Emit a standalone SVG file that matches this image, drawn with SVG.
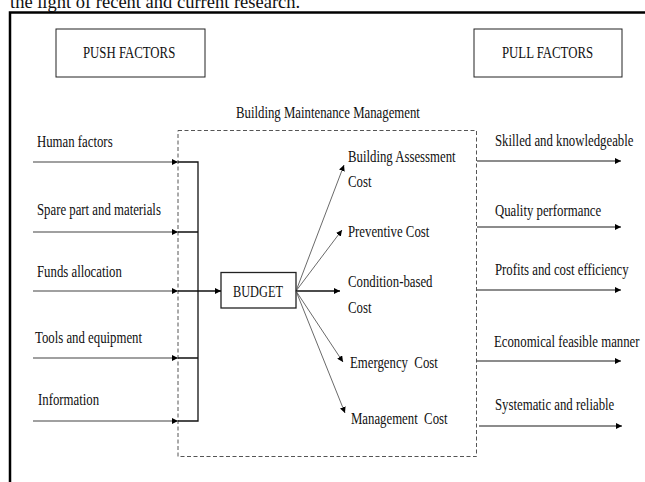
<svg xmlns="http://www.w3.org/2000/svg" width="645" height="482" viewBox="0 0 645 482">
<style>
text{font-family:"Liberation Serif","Times New Roman",serif;font-size:16px;fill:#111}
.box{fill:#fff;stroke:#222;stroke-width:1}
.in{stroke:#808080;stroke-width:1.5;fill:none}
.bus{stroke:#111;stroke-width:1.3;fill:none}
.fan{stroke:#444;stroke-width:0.8;fill:none}
.out{stroke:#666;stroke-width:1.5;fill:none}
</style>
<defs>
<marker id="ah" viewBox="0 0 10 10" refX="10" refY="5" markerWidth="6" markerHeight="6" markerUnits="userSpaceOnUse" orient="auto"><path d="M0,0 L10,5 L0,10 z" fill="#000"/></marker>
</defs>
<rect width="645" height="482" fill="#fff"/>
<text x="10" y="8" style="font-size:18.5px">the light of recent and current research.</text>
<path d="M10,482 V12.5 H645" fill="none" stroke="#000" stroke-width="2.5"/>

<g id="push"><rect class="box" x="56" y="29" width="149" height="48"/><text transform="translate(83,58) scale(0.8,1)">PUSH FACTORS</text></g>
<g id="pull"><rect class="box" x="474" y="29" width="148" height="48"/><text transform="translate(502,58) scale(0.8,1)">PULL FACTORS</text></g>

<g id="bmm"><rect x="178" y="130.5" width="298.5" height="326" fill="none" stroke="#555" stroke-width="1" stroke-dasharray="4 2.5"/><text transform="translate(236,118) scale(0.8,1)">Building Maintenance Management</text></g>

<g id="push-items">
<text transform="translate(37,147) scale(0.8,1)">Human factors</text>
<text transform="translate(37,215) scale(0.8,1)">Spare part and materials</text>
<text transform="translate(37,277) scale(0.8,1)">Funds allocation</text>
<text transform="translate(35,343) scale(0.8,1)">Tools and equipment</text>
<text transform="translate(38,405) scale(0.8,1)">Information</text>
</g>

<g id="budget"><rect x="221" y="272.5" width="75" height="35.5" fill="#fff" stroke="#222" stroke-width="1.3"/><text transform="translate(233,297) scale(0.77,1)">BUDGET</text></g>

<g id="costs">
<text transform="translate(348,162) scale(0.8,1)">Building Assessment</text>
<text transform="translate(348,187) scale(0.8,1)">Cost</text>
<text transform="translate(348,237) scale(0.8,1)">Preventive Cost</text>
<text transform="translate(348,287) scale(0.8,1)">Condition-based</text>
<text transform="translate(348,313) scale(0.8,1)">Cost</text>
<text transform="translate(350,368) scale(0.8,1)" xml:space="preserve">Emergency  Cost</text>
<text transform="translate(351,424) scale(0.8,1)" xml:space="preserve">Management  Cost</text>
</g>

<g id="pull-items">
<text transform="translate(495,146) scale(0.8,1)">Skilled and knowledgeable</text>
<text transform="translate(495,216) scale(0.8,1)">Quality performance</text>
<text transform="translate(495,275) scale(0.8,1)">Profits and cost efficiency</text>
<text transform="translate(494,347) scale(0.8,1)">Economical feasible manner</text>
<text transform="translate(495,410) scale(0.8,1)">Systematic and reliable</text>
</g>

<g id="connectors">
<line class="in" x1="33" y1="162" x2="178" y2="162" marker-end="url(#ah)"/>
<line class="in" x1="33" y1="232" x2="178" y2="232" marker-end="url(#ah)"/>
<line class="in" x1="33" y1="291" x2="178" y2="291" marker-end="url(#ah)"/>
<line class="in" x1="33" y1="358" x2="178" y2="358" marker-end="url(#ah)"/>
<line class="in" x1="33" y1="421" x2="178" y2="421" marker-end="url(#ah)"/>
<path class="bus" d="M178,162 H198 V421 H178 M178,232 H198 M178,358 H198"/>
<line class="bus" x1="178" y1="291" x2="221" y2="291" marker-end="url(#ah)"/>
<line class="fan" x1="296" y1="291" x2="344" y2="165" marker-end="url(#ah)"/>
<line class="fan" x1="296" y1="291" x2="342" y2="230" marker-end="url(#ah)"/>
<line class="bus" x1="296" y1="291" x2="340" y2="291" marker-end="url(#ah)"/>
<line class="fan" x1="296" y1="291" x2="343" y2="362" marker-end="url(#ah)"/>
<line class="fan" x1="296" y1="291" x2="345" y2="413" marker-end="url(#ah)"/>
<line class="out" x1="477" y1="161" x2="621" y2="161" marker-end="url(#ah)"/>
<line class="out" x1="477" y1="227" x2="621" y2="227" marker-end="url(#ah)"/>
<line class="out" x1="477" y1="290" x2="621" y2="290" marker-end="url(#ah)"/>
<line class="out" x1="477" y1="361" x2="621" y2="361" marker-end="url(#ah)"/>
<line class="out" x1="479" y1="426" x2="622" y2="426" marker-end="url(#ah)"/>
</g>
</svg>
